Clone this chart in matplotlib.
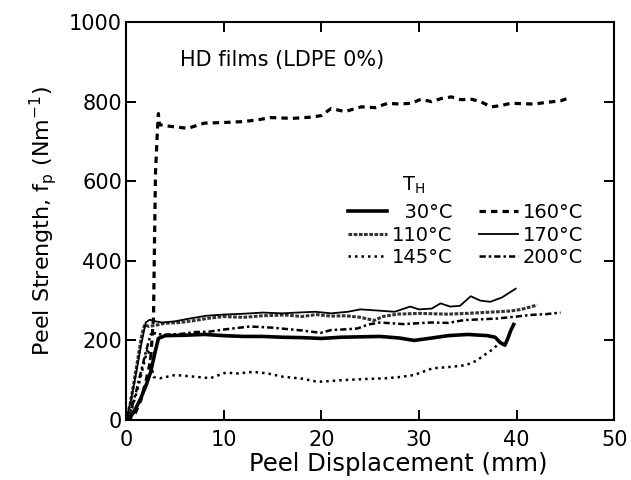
import matplotlib
matplotlib.use('Agg')
import matplotlib.pyplot as plt

matplotlib.rcParams.update({
    'font.family': 'DejaVu Sans',
    'font.size': 15,
    'mathtext.default': 'regular',
})

# peel curves, one pair of arrays per sealing temperature
x_30 = [0, 0.5, 1.0, 1.5, 2.0, 2.5, 3.0, 3.3, 4, 6, 8, 10, 12, 14, 16, 18, 20, 22,
        24, 26, 28, 29.5, 31, 33, 35, 37, 37.8, 38.3, 38.8, 39.1, 39.4, 39.7]
y_30 = [0, 10, 30, 55, 85, 120, 175, 205, 212, 213, 215, 212, 210, 210, 208, 207, 205, 208,
        209, 210, 206, 200, 205, 212, 215, 212, 208, 195, 188, 205, 225, 240]

x_110 = [0, 0.4, 0.8, 1.2, 1.6, 1.9, 2.3, 3.0, 3.9, 5.5, 7, 8.5, 10, 12, 14, 16.3, 18,
         19.5, 20.9, 22.5, 24, 25.4, 26.3, 27.8, 30, 32.9, 35, 38, 39.4, 40.5, 41.4, 42.1]
y_110 = [0, 40, 95, 155, 215, 240, 235, 238, 243, 245, 250, 256, 260, 258, 262, 264, 260,
         265, 261, 262, 258, 250, 260, 266, 268, 266, 268, 272, 274, 278, 284, 289]

x_145 = [0, 0.6, 1.2, 1.8, 2.2, 2.5, 2.8, 3.5, 5, 6.5, 8.6, 10.2, 11.5, 13, 14.5, 16, 18,
         19.6, 21, 22, 24.5, 26.7, 28, 29.5, 30.5, 31.4, 33, 34.3, 35.3, 36, 36.8, 37.7, 38.3]
y_145 = [0, 30, 80, 140, 180, 150, 108, 105, 113, 110, 105, 119, 117, 121, 117, 109, 104,
         96, 98, 100, 103, 105, 108, 113, 122, 130, 133, 136, 142, 151, 165, 180, 198]

x_160 = [0, 0.8, 1.5, 2.0, 2.5, 2.8, 2.9, 3.0, 3.2, 3.3, 3.4, 4.5, 6.3, 8, 10.4, 12, 13.4,
         14.8, 17, 18.9, 20, 21, 22.4, 24.1, 25.5, 26.8, 28, 29.2, 30.2, 31.3, 32.3, 33.3,
         34.3, 35.4, 36.3, 37.4, 38.4, 39.4, 40.5, 41.8, 43, 44.5, 45.2]
y_160 = [0, 10, 50, 95, 150, 260, 450, 620, 730, 770, 742, 738, 733, 746, 748, 750, 754,
         760, 758, 761, 765, 783, 775, 787, 785, 796, 794, 796, 806, 800, 808, 812,
         805, 806, 800, 787, 790, 796, 795, 794, 798, 802, 808]

x_170 = [0, 0.5, 1.0, 1.5, 2.0, 2.4, 3.0, 3.7, 5, 6.5, 8.2, 10, 12, 14, 16, 17.5, 19.4, 21,
         22.7, 24, 25.8, 27.5, 29.1, 30, 31.3, 32.2, 33.2, 34.2, 35.3, 36.3, 37.3, 38.5, 39.9]
y_170 = [0, 50, 115, 185, 245, 252, 248, 245, 248, 255, 262, 265, 267, 270, 268, 270, 272, 268,
         272, 278, 275, 272, 285, 278, 280, 293, 285, 287, 311, 300, 297, 308, 330]

x_200 = [0, 0.5, 1.0, 1.5, 2.0, 2.5, 3.0, 3.7, 5.5, 7, 8.5, 10.2, 12.7, 15, 18, 19.9, 21,
         22.6, 23.7, 24.8, 26, 28.4, 31.2, 33, 34.6, 36.3, 38, 40, 41.4, 43, 44.5]
y_200 = [0, 25, 70, 120, 170, 215, 218, 214, 216, 221, 222, 228, 235, 232, 225, 219, 226,
         228, 230, 240, 245, 241, 245, 244, 251, 253, 255, 260, 264, 266, 270]

labels = ['  30°C', '110°C', '145°C', '160°C', '170°C', '200°C']
x_ticks = [0, 10, 20, 30, 40, 50]
y_ticks = [0, 200, 400, 600, 800, 1000]

fig = plt.figure(figsize=(6.31, 4.8), dpi=100)
ax = fig.add_axes([0.2, 0.125, 0.7734, 0.829])

ax.plot(x_30, y_30, color='black', lw=2.6, ls='-', label=labels[0])
ax.plot(x_110, y_110, color='#333333', lw=2.2, ls=(0, (1.2, 0.5)), label=labels[1])
ax.plot(x_145, y_145, color='black', lw=1.8, ls=(0, (1, 1.6)), label=labels[2])
ax.plot(x_160, y_160, color='black', lw=2.3, ls=(0, (2.0, 1.6)), label=labels[3])
ax.plot(x_170, y_170, color='black', lw=1.3, ls='-', label=labels[4])
ax.plot(x_200, y_200, color='black', lw=1.8, ls=(0, (2.5, 1.2, 1, 1.2)), label=labels[5])

ax.set_xlim(0, 50)
ax.set_ylim(0, 1000)
ax.set_xticks(x_ticks)
ax.set_yticks(y_ticks)
ax.tick_params(direction='in', length=7, width=1.4, top=True, right=True)
ax.tick_params(axis='x', pad=7)
ax.tick_params(axis='y', pad=3)
for sp in ax.spines.values():
    sp.set_linewidth(1.5)

ax.set_xlabel('Peel Displacement (mm)', fontsize=17.5)
ax.xaxis.set_label_coords(0.557, -0.08)
ax.set_ylabel('Peel Strength, f$_{p}$ (Nm$^{-1}$)', fontsize=16)
ax.yaxis.set_label_coords(-0.137, 0.5)

ax.text(5.5, 905, 'HD films (LDPE 0%)', ha='left', va='center')
ax.text(0.588, 0.59, 'T$_{H}$', transform=ax.transAxes, ha='center', va='center', fontsize=14)

ax.legend(ncol=2, loc='upper left', bbox_to_anchor=(0.454, 0.545), frameon=False,
          fontsize=14, handlelength=2.0, handletextpad=0.25, labelspacing=0.18,
          columnspacing=1.4, borderpad=0, borderaxespad=0)

plt.savefig('out.png', dpi=100, facecolor='white')
plt.close()
